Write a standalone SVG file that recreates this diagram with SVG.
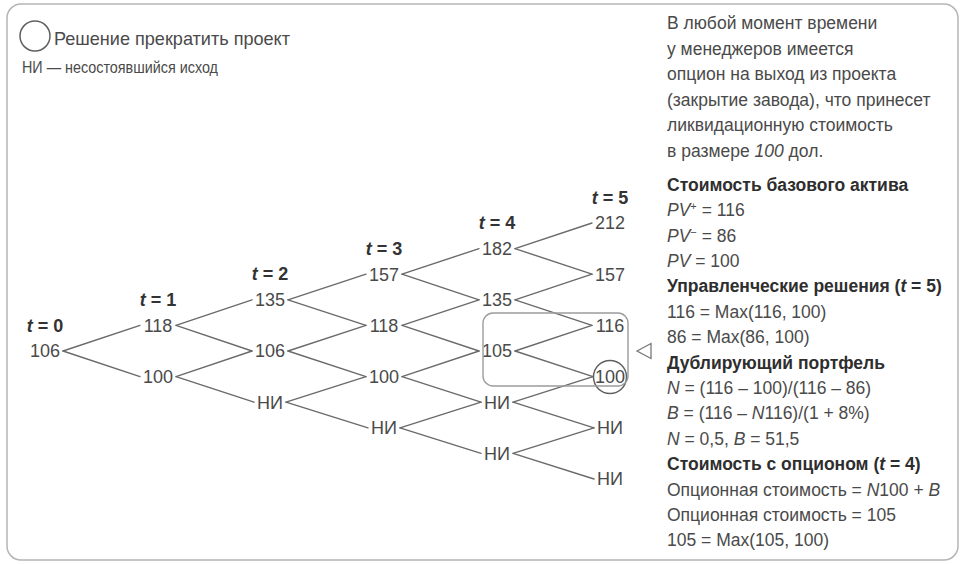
<svg xmlns="http://www.w3.org/2000/svg" width="963" height="564" viewBox="0 0 963 564">
<style>
text{font-family:"Liberation Sans",Arial,sans-serif;fill:#4a4a4a;}
.v{font-size:18px;text-anchor:middle;}
.t{font-size:18px;font-weight:bold;text-anchor:middle;fill:#333;}
.r{font-size:17.5px;}
.h{font-size:17.5px;font-weight:bold;fill:#2e2e2e;}
.i{font-style:italic;}
.edge{stroke:#6a6a6a;stroke-width:1.4;fill:none;stroke-linecap:round;}
.mark{stroke:#606060;stroke-width:1.5;fill:none;}
.box{stroke:#9c9c9c;stroke-width:1.4;fill:none;}
</style>
<rect x="0" y="0" width="963" height="564" fill="#fff"/>
<rect x="7" y="4" width="951" height="556" rx="14" fill="#fff" stroke="#b5b5b5" stroke-width="1.5"/>

<g id="legend">
<circle cx="35" cy="36" r="15" class="mark"/>
<text x="54" y="45" style="font-size:18.5px" textLength="236" lengthAdjust="spacingAndGlyphs">Решение прекратить проект</text>
<text x="22" y="73" style="font-size:16.5px" textLength="196" lengthAdjust="spacingAndGlyphs">НИ — несостоявшийся исход</text>
</g>

<g id="time-labels">
<text class="t" x="45" y="331.5"><tspan class="i">t</tspan> = 0</text>
<text class="t" x="158" y="306"><tspan class="i">t</tspan> = 1</text>
<text class="t" x="270" y="280.4"><tspan class="i">t</tspan> = 2</text>
<text class="t" x="384" y="254.8"><tspan class="i">t</tspan> = 3</text>
<text class="t" x="497" y="229.2"><tspan class="i">t</tspan> = 4</text>
<text class="t" x="610" y="203.6"><tspan class="i">t</tspan> = 5</text>
</g>

<g id="connectors">
<line class="edge" x1="63" y1="351" x2="140" y2="325.4"/>
<line class="edge" x1="63" y1="351" x2="140" y2="376.6"/>
<line class="edge" x1="176" y1="325.4" x2="252" y2="299.8"/>
<line class="edge" x1="176" y1="325.4" x2="252" y2="351"/>
<line class="edge" x1="176" y1="376.6" x2="252" y2="351"/>
<line class="edge" x1="176" y1="376.6" x2="254" y2="402.2"/>
<line class="edge" x1="288" y1="299.8" x2="366" y2="274.2"/>
<line class="edge" x1="288" y1="299.8" x2="366" y2="325.4"/>
<line class="edge" x1="288" y1="351" x2="366" y2="325.4"/>
<line class="edge" x1="288" y1="351" x2="366" y2="376.6"/>
<line class="edge" x1="286" y1="402.2" x2="366" y2="376.6"/>
<line class="edge" x1="286" y1="402.2" x2="368" y2="427.8"/>
<line class="edge" x1="402" y1="274.2" x2="479" y2="248.6"/>
<line class="edge" x1="402" y1="274.2" x2="479" y2="299.8"/>
<line class="edge" x1="402" y1="325.4" x2="479" y2="299.8"/>
<line class="edge" x1="402" y1="325.4" x2="479" y2="351"/>
<line class="edge" x1="402" y1="376.6" x2="479" y2="351"/>
<line class="edge" x1="402" y1="376.6" x2="481" y2="402.2"/>
<line class="edge" x1="400" y1="427.8" x2="481" y2="402.2"/>
<line class="edge" x1="400" y1="427.8" x2="481" y2="453.4"/>
<line class="edge" x1="515" y1="248.6" x2="592" y2="223"/>
<line class="edge" x1="515" y1="248.6" x2="592" y2="274.2"/>
<line class="edge" x1="515" y1="299.8" x2="592" y2="274.2"/>
<line class="edge" x1="515" y1="299.8" x2="592" y2="325.4"/>
<line class="edge" x1="515" y1="351" x2="592" y2="325.4"/>
<line class="edge" x1="515" y1="351" x2="593" y2="376.6"/>
<line class="edge" x1="513" y1="402.2" x2="593" y2="376.6"/>
<line class="edge" x1="513" y1="402.2" x2="594" y2="427.8"/>
<line class="edge" x1="513" y1="453.4" x2="594" y2="427.8"/>
<line class="edge" x1="513" y1="453.4" x2="594" y2="479"/>
</g>

<g id="n0-0"><text class="v" x="45" y="357.4">106</text></g>
<g id="n1-0"><text class="v" x="158" y="331.8">118</text></g>
<g id="n1-1"><text class="v" x="158" y="383">100</text></g>
<g id="n2-0"><text class="v" x="270" y="306.2">135</text></g>
<g id="n2-1"><text class="v" x="270" y="357.4">106</text></g>
<g id="n2-2"><text class="v" x="270" y="408.6">НИ</text></g>
<g id="n3-0"><text class="v" x="384" y="280.6">157</text></g>
<g id="n3-1"><text class="v" x="384" y="331.8">118</text></g>
<g id="n3-2"><text class="v" x="384" y="383">100</text></g>
<g id="n3-3"><text class="v" x="384" y="434.2">НИ</text></g>
<g id="n4-0"><text class="v" x="497" y="255">182</text></g>
<g id="n4-1"><text class="v" x="497" y="306.2">135</text></g>
<g id="n4-2"><text class="v" x="497" y="357.4">105</text></g>
<g id="n4-3"><text class="v" x="497" y="408.6">НИ</text></g>
<g id="n4-4"><text class="v" x="497" y="459.8">НИ</text></g>
<g id="n5-0"><text class="v" x="610" y="229.4">212</text></g>
<g id="n5-1"><text class="v" x="610" y="280.6">157</text></g>
<g id="n5-2"><text class="v" x="610" y="331.8">116</text></g>
<g id="n5-3"><circle cx="610" cy="377" r="16.5" class="mark"/><text class="v" x="610" y="383">100</text></g>
<g id="n5-4"><text class="v" x="610" y="434.2">НИ</text></g>
<g id="n5-5"><text class="v" x="610" y="485.4">НИ</text></g>

<g id="highlight">
<rect x="483" y="313" width="145" height="73" rx="10" class="box"/>
<polygon points="637,351 651,343.5 651,358.5" fill="#fff" stroke="#777" stroke-width="1.3"/>
</g>

<g id="notes">
<text class="r" x="667" y="29">В любой момент времени</text>
<text class="r" x="667" y="54.5">у менеджеров имеется</text>
<text class="r" x="667" y="80">опцион на выход из проекта</text>
<text class="r" x="667" y="105.5">(закрытие завода), что принесет</text>
<text class="r" x="667" y="131">ликвидационную стоимость</text>
<text class="r" x="667" y="156.5">в размере <tspan class="i">100</tspan> дол.</text>
<text class="h" x="667" y="190.5">Стоимость базового актива</text>
<text class="r" x="667" y="216"><tspan class="i">PV</tspan><tspan dy="-6" font-size="11">+</tspan><tspan dy="6"> = 116</tspan></text>
<text class="r" x="667" y="241.5"><tspan class="i">PV</tspan><tspan dy="-6" font-size="11">−</tspan><tspan dy="6"> = 86</tspan></text>
<text class="r" x="667" y="267"><tspan class="i">PV</tspan> = 100</text>
<text class="h" x="667" y="292">Управленческие решения (<tspan class="i">t</tspan> = 5)</text>
<text class="r" x="667" y="317.5">116 = Max(116, 100)</text>
<text class="r" x="667" y="343">86 = Max(86, 100)</text>
<text class="h" x="667" y="368.5">Дублирующий портфель</text>
<text class="r" x="667" y="393.5"><tspan class="i">N</tspan> = (116 – 100)/(116 – 86)</text>
<text class="r" x="667" y="419"><tspan class="i">B</tspan> = (116 – <tspan class="i">N</tspan>116)/(1 + 8%)</text>
<text class="r" x="667" y="444.5"><tspan class="i">N</tspan> = 0,5, <tspan class="i">B</tspan> = 51,5</text>
<text class="h" x="667" y="470">Стоимость с опционом (<tspan class="i">t</tspan> = 4)</text>
<text class="r" x="667" y="495.5">Опционная стоимость = <tspan class="i">N</tspan>100 + <tspan class="i">B</tspan></text>
<text class="r" x="667" y="520.5">Опционная стоимость = 105</text>
<text class="r" x="667" y="546">105 = Max(105, 100)</text>
</g>
</svg>
